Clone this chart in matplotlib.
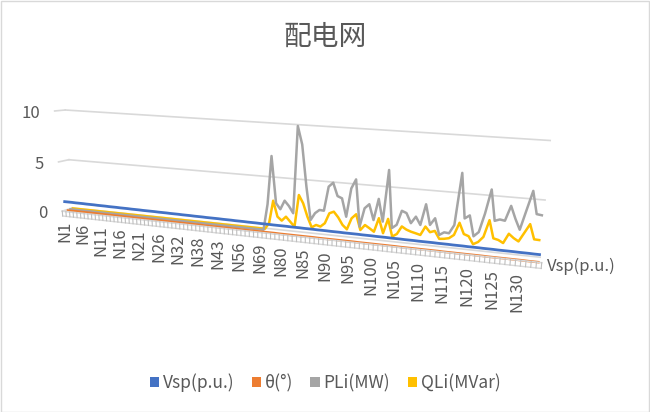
import numpy as np
import matplotlib
matplotlib.use("Agg")
import matplotlib.pyplot as plt
from matplotlib.transforms import Transform, offset_copy
from matplotlib.patches import Rectangle, Patch

# node names (one category per node)
nodes = list(range(1, 31)) + [32, 33, 34, 35, 36, 38, 39, 40, 41, 42, 43, 45, 48, 51, 53, 56,
                              58, 61, 64, 66, 69, 71, 73, 76, 78] + list(range(80, 135))

vsp = [0.96, 0.96, 0.96, 0.95, 0.95, 0.95, 0.94, 0.94, 0.94, 0.93,
       0.93, 0.93, 0.92, 0.92, 0.92, 0.91, 0.91, 0.91, 0.90, 0.90,
       0.90, 0.89, 0.89, 0.89, 0.89, 0.88, 0.88, 0.88, 0.87, 0.87,
       0.87, 0.86, 0.86, 0.86, 0.85, 0.85, 0.85, 0.84, 0.84, 0.84,
       0.84, 0.83, 0.83, 0.83, 0.82, 0.82, 0.82, 0.81, 0.81, 0.81,
       0.80, 0.80, 0.80, 0.79, 0.79, 0.79, 0.79, 0.78, 0.78, 0.78,
       0.77, 0.77, 0.77, 0.76, 0.76, 0.76, 0.75, 0.75, 0.75, 0.74,
       0.74, 0.74, 0.74, 0.73, 0.73, 0.73, 0.72, 0.72, 0.72, 0.71,
       0.71, 0.71, 0.70, 0.70, 0.70, 0.69, 0.69, 0.69, 0.69, 0.68,
       0.68, 0.68, 0.67, 0.67, 0.67, 0.66, 0.66, 0.66, 0.65, 0.65,
       0.65, 0.64, 0.64, 0.64, 0.64, 0.63, 0.63, 0.63, 0.62, 0.62]

theta = [-0.04, -0.04, -0.04, -0.04, -0.04, -0.04, -0.04, -0.04, -0.04, -0.05,
         -0.05, -0.05, -0.05, -0.05, -0.05, -0.05, -0.05, -0.05, -0.06, -0.06,
         -0.06, -0.06, -0.06, -0.06, -0.06, -0.06, -0.06, -0.07, -0.07, -0.07,
         -0.07, -0.07, -0.07, -0.07, -0.07, -0.07, -0.08, -0.08, -0.08, -0.08,
         -0.08, -0.08, -0.08, -0.08, -0.08, -0.09, -0.09, -0.09, -0.09, -0.09,
         -0.09, -0.09, -0.09, -0.09, -0.10, -0.10, -0.10, -0.10, -0.10, -0.10,
         -0.10, -0.10, -0.10, -0.11, -0.11, -0.11, -0.11, -0.11, -0.11, -0.11,
         -0.11, -0.11, -0.12, -0.12, -0.12, -0.12, -0.12, -0.12, -0.12, -0.12,
         -0.12, -0.13, -0.13, -0.13, -0.13, -0.13, -0.13, -0.13, -0.13, -0.13,
         -0.14, -0.14, -0.14, -0.14, -0.14, -0.14, -0.14, -0.14, -0.14, -0.15,
         -0.15, -0.15, -0.15, -0.15, -0.15, -0.15, -0.15, -0.16, -0.16, -0.16]

pli = [0.0] * 51 + [2.50, 7.05, 2.67, 2.14, 2.99, 2.52, 1.88, 9.94, 8.30, 4.48,
                    1.41, 2.09, 2.43, 2.40, 4.66, 5.06, 3.87, 3.70, 2.04, 4.68,
                    5.53, 1.25, 2.98, 3.39, 1.98, 3.95, 1.92, 6.61, 1.41, 1.75,
                    3.07, 2.90, 2.03, 2.66, 1.95, 3.85, 2.04, 2.68, 1.22, 1.50,
                    1.46, 2.24, 6.85, 2.91, 3.22, 1.41, 1.83, 3.50, 5.63, 2.95,
                    3.11, 3.04, 4.37, 3.30, 2.38, 4.10, 5.80, 3.86, 3.80]

qli = [0.0] * 51 + [0.60, 2.79, 1.30, 0.96, 1.38, 0.94, 0.50, 3.56, 2.81, 1.58,
                    0.61, 0.88, 0.77, 1.13, 2.11, 2.30, 1.81, 1.14, 0.77, 1.84,
                    2.26, 0.83, 1.34, 1.08, 0.80, 2.10, 0.75, 2.12, 0.53, 0.81,
                    1.55, 1.30, 1.15, 1.05, 0.94, 1.75, 1.28, 1.44, 0.76, 0.81,
                    0.91, 1.25, 2.39, 1.42, 1.27, 0.59, 0.84, 1.34, 2.87, 1.30,
                    1.20, 0.97, 1.84, 1.50, 1.25, 2.05, 2.86, 1.57, 1.55]

names = ["Vsp(p.u.)", "θ(°)", "PLi(MW)", "QLi(MVar)"]
colors = ["#4472C4", "#ED7D31", "#A5A5A5", "#FFC000"]

# camera matrix of the 3-D view: (category, depth, value) -> canvas pixels
P = np.array([[3.5031352, 2.9541086, -0.942568, 64.1058154],
              [0.0524552, 0.4296723, -10.3903057, 211.3741562],
              [-0.0015849, 0.0060682, -0.0032656, 1.0]])


class Proj(Transform):
    input_dims = output_dims = 2

    def __init__(self, fixed, val):
        super().__init__()
        self.fixed = fixed
        self.val = val

    def transform_non_affine(self, xy):
        xy = np.asarray(xy, float).reshape(-1, 2)
        a, c = xy[:, 0], xy[:, 1]
        k = np.full_like(a, self.val)
        if self.fixed == "depth":      # (category, value) at a depth
            X, Y, Z = a, k, c
        elif self.fixed == "cat":      # (depth, value) at a category
            X, Y, Z = k, a, c
        else:                          # (category, depth) at a value
            X, Y, Z = a, c, k
        q = P @ np.vstack([X, Y, Z, np.ones_like(X)])
        return np.column_stack([q[0] / q[2], q[1] / q[2]])


plt.rcParams["font.family"] = ["Noto Sans CJK SC", "DejaVu Sans"]
txt = "#595959"
grid_c = "#D9D9D9"

fig = plt.figure(figsize=(6.5, 4.12), dpi=100)
ax = fig.add_axes([0, 0, 1, 1])
ax.set_xlim(0, 650)
ax.set_ylim(412, 0)
ax.axis("off")
fig.patches.append(Rectangle((0.5 / 650, 0.5 / 412), 648.5 / 650, 410.5 / 412,
                             transform=fig.transFigure, fill=False, edgecolor=grid_c, lw=1))

n = len(nodes)
x0, x1 = -0.5, n - 0.5
front = Proj("depth", 0) + ax.transData
val_lab = offset_copy(front, fig=fig, y=-3.5, units="dots")

# walls: side wall and back wall gridlines, value labels
for z in [0, 5, 10]:
    ax.plot([0, 4], [z, z], color=grid_c, lw=1.2, transform=Proj("cat", x0) + ax.transData)
    ax.plot([x0, x1], [z, z], color=grid_c, lw=1.2, transform=Proj("depth", 4) + ax.transData)
    ax.text(x0 - 4, z, str(z), ha="right", va="center", fontsize=12, color=txt, transform=val_lab)

# series ribbons, back to front
idx = np.arange(n)
series = [vsp, theta, pli, qli]
for k in [3, 2, 1, 0]:
    ax.plot(idx, series[k], color=colors[k], lw=2.0 if k == 0 else 1.8, solid_joinstyle="round",
            transform=Proj("depth", k + 0.5) + ax.transData)

# floor front edge with category ticks
ax.plot([x0, x1], [0, 0], color=grid_c, lw=1.2, transform=front)
ax.plot([x0, x1], [-0.5, -0.5], color=grid_c, lw=1.0, transform=front)
for t in np.arange(n + 1) - 0.5:
    ax.plot([t, t], [0, -0.5], color="#BFBFBF", lw=0.8, transform=front)
for i in range(0, n, 5):
    ax.text(i, -1.0, "N%d" % nodes[i], rotation=90, ha="center", va="top", fontsize=12,
            color=txt, transform=front)
ax.text(x1 + 1.0, -0.3, names[0], ha="left", va="center", fontsize=12, color=txt, transform=front)

fig.text(0.5, 1 - 37 / 412, "配电网", ha="center", va="center", fontsize=20, color=txt)
handles = [Patch(facecolor=c, edgecolor="none") for c in colors]
fig.legend(handles, names, loc="center", bbox_to_anchor=(0.5, 1 - 383 / 412), ncol=4,
           frameon=False, fontsize=12.5, labelcolor=txt, handlelength=0.55, handleheight=0.55,
           handletextpad=0.2, columnspacing=1.0)
fig.savefig("out.png")
